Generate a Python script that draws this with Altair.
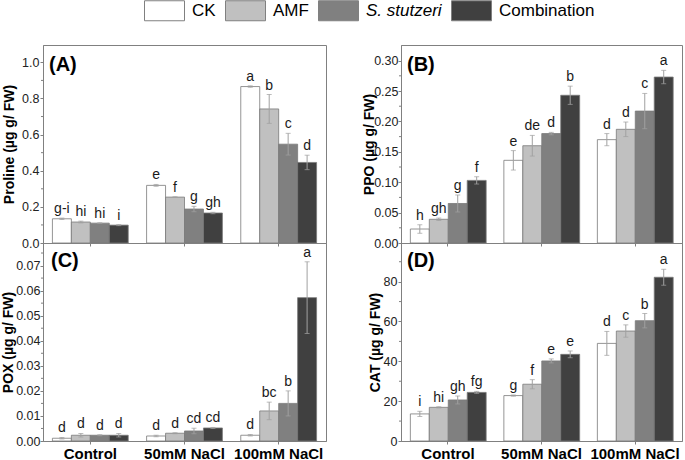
import altair as alt
import pandas as pd

groups = ["Control", "50mM NaCl", "100mM NaCl"]
treatments = ["CK", "AMF", "S. stutzeri", "Combination"]
fills = ["#ffffff", "#c0c0c0", "#808080", "#404040"]

proline_mean = [0.134, 0.116, 0.110, 0.099, 0.319, 0.254, 0.188, 0.166, 0.866, 0.742, 0.547, 0.446]
proline_err = [0.004, 0.005, 0.002, 0.003, 0.005, 0.002, 0.015, 0.004, 0.004, 0.080, 0.060, 0.040]
proline_letters = ["g-i", "hi", "hi", "i", "e", "f", "g", "gh", "a", "b", "c", "d"]

ppo_mean = [0.023, 0.039, 0.065, 0.103, 0.136, 0.160, 0.180, 0.243, 0.170, 0.187, 0.217, 0.273]
ppo_err = [0.007, 0.002, 0.014, 0.006, 0.016, 0.017, 0.002, 0.015, 0.010, 0.012, 0.029, 0.011]
ppo_letters = ["h", "gh", "g", "f", "e", "de", "d", "b", "d", "d", "c", "a"]

pox_mean = [0.0011, 0.0023, 0.0023, 0.0023, 0.0020, 0.0031, 0.0040, 0.0052, 0.0023, 0.0120, 0.0150, 0.0572]
pox_err = [0.0003, 0.0007, 0.0002, 0.0007, 0.0003, 0.0002, 0.0011, 0.0002, 0.0003, 0.0035, 0.0050, 0.0143]
pox_letters = ["d", "d", "d", "d", "d", "d", "cd", "cd", "d", "bc", "b", "a"]

cat_mean = [13.6, 16.9, 20.6, 24.4, 22.8, 28.5, 40.2, 43.5, 49.0, 55.2, 60.4, 82.2]
cat_err = [1.3, 0.3, 2.0, 0.5, 0.3, 2.3, 1.0, 1.7, 6.0, 3.1, 3.6, 4.0]
cat_letters = ["i", "hi", "gh", "fg", "g", "f", "e", "e", "d", "c", "b", "a"]

proline_ticks = [0.0, 0.2, 0.4, 0.6, 0.8, 1.0]
proline_minor = [0.1, 0.3, 0.5, 0.7, 0.9]
ppo_ticks = [0.0, 0.05, 0.10, 0.15, 0.20, 0.25, 0.30]
ppo_minor = [0.025, 0.075, 0.125, 0.175, 0.225, 0.275]
pox_ticks = [0.0, 0.01, 0.02, 0.03, 0.04, 0.05, 0.06, 0.07]
pox_minor = [0.005, 0.015, 0.025, 0.035, 0.045, 0.055, 0.065, 0.075]
cat_ticks = [0, 20, 40, 60, 80]
cat_minor = [10, 30, 50, 70, 90]

FONT = "Liberation Sans"
GRAY = "#808080"


def make_df(mean, err, letters):
    rows = []
    for i, g in enumerate(groups):
        for j, t in enumerate(treatments):
            k = i * 4 + j
            rows.append({"group": g, "treat": t, "mean": mean[k],
                         "lo": mean[k] - err[k], "hi": mean[k] + err[k],
                         "letter": letters[k]})
    return pd.DataFrame(rows)


legend = alt.Legend(
    title=None, orient="none", direction="horizontal",
    legendX=111, legendY=-45,
    symbolType="M-2,-1H2V1H-2Z", symbolSize=400,
    symbolStrokeColor=GRAY, symbolStrokeWidth=1, symbolOpacity=1,
    labelFontSize=17, labelFont=FONT, labelColor="#000000",
    labelOffset=17, columnPadding=7,
    labelFontStyle={"expr": "datum.label == 'S. stutzeri' ? 'italic' : 'normal'"},
)


def panel(mean, err, letters, title, ymax, ticks, minor, fmt, label, show_x,
          lab_x, lab_y, width, title_pad, label_pad):
    df = make_df(mean, err, letters)
    xenc = alt.X("group:N", sort=groups,
                 scale=alt.Scale(paddingInner=0.195, paddingOuter=0.1),
                 axis=alt.Axis(title=None, labels=show_x, labelAngle=0,
                               labelFontSize=15, labelFontWeight="bold",
                               labelColor="#000000", labelFont=FONT,
                               labelPadding=2, tickSize=3, tickColor=GRAY,
                               domainColor=GRAY))
    xoff = alt.XOffset("treat:N", sort=treatments,
                       scale=alt.Scale(paddingInner=0, paddingOuter=0))
    yscale = alt.Scale(domain=[0, ymax], nice=False, zero=True)
    yaxis = alt.Axis(title=title, values=ticks, format=fmt,
                     titleFontSize=14, titleFontWeight="bold", titleFont=FONT,
                     titleColor="#000000", titlePadding=title_pad,
                     labelFontSize=12.5, labelFont=FONT, labelColor="#222222",
                     labelPadding=label_pad, tickSize=3, tickColor=GRAY,
                     domainColor=GRAY)
    base = alt.Chart(df)
    bars = base.mark_bar(stroke="#7a7a7a", strokeWidth=0.8).encode(
        x=xenc, xOffset=xoff,
        y=alt.Y("mean:Q", scale=yscale, axis=yaxis),
        color=alt.Color("treat:N", sort=treatments,
                        scale=alt.Scale(domain=treatments, range=fills),
                        legend=legend),
    )
    rules = base.mark_rule(color="#a0a0a0", strokeWidth=1).encode(
        x=xenc, xOffset=xoff,
        y=alt.Y("lo:Q", scale=yscale, axis=yaxis), y2="hi:Q")
    caps_hi = base.mark_tick(color="#a0a0a0", thickness=1, size=5).encode(
        x=xenc, xOffset=xoff, y=alt.Y("hi:Q", scale=yscale, axis=yaxis))
    caps_lo = base.mark_tick(color="#a0a0a0", thickness=1, size=5).encode(
        x=xenc, xOffset=xoff, y=alt.Y("lo:Q", scale=yscale, axis=yaxis))
    texts = base.mark_text(fontSize=14, font=FONT, color="#1a1a1a",
                           baseline="bottom", dy=-2).encode(
        x=xenc, xOffset=xoff, y=alt.Y("hi:Q", scale=yscale, axis=yaxis),
        text="letter:N")
    mdf = pd.DataFrame({"v": minor})
    mticks = alt.Chart(mdf).mark_rule(color=GRAY, strokeWidth=1).encode(
        y=alt.Y("v:Q", scale=yscale, axis=yaxis),
        x=alt.value(0), x2=alt.value(-2))
    ldf = pd.DataFrame({"lab": [label]})
    ptxt = alt.Chart(ldf).mark_text(fontSize=20, fontWeight="bold", font=FONT,
                                    align="left", baseline="alphabetic",
                                    color="#000000").encode(
        text="lab:N", x=alt.value(lab_x), y=alt.value(lab_y))
    return alt.layer(bars, rules, caps_hi, caps_lo, texts, mticks, ptxt).properties(
        width=width, height=198)


pA = panel(proline_mean, proline_err, proline_letters, "Proline (µg g/ FW)",
           1.096, proline_ticks, proline_minor, ".1f", "(A)", False, 6, 26, 283, 5, 1)
pB = panel(ppo_mean, ppo_err, ppo_letters, "PPO (µg g/ FW)",
           0.3257, ppo_ticks, ppo_minor, ".2f", "(B)", False, 6, 26, 281, -3, 0)
pC = panel(pox_mean, pox_err, pox_letters, "POX (µg g/ FW)",
           0.079, pox_ticks, pox_minor, ".2f", "(C)", True, 8, 24, 283, 0, 0)
pD = panel(cat_mean, cat_err, cat_letters, "CAT (µg g/ FW)",
           99.4, cat_ticks, cat_minor, "d", "(D)", True, 6, 24, 281, 1, 1)

chart = alt.concat(pA, pB, pC, pD, columns=2, bounds="flush",
                   spacing={"row": 0, "column": 75}).properties(
    padding={"left": 1, "top": 0, "right": 2, "bottom": 0}
).configure_view(stroke=GRAY, strokeWidth=1).configure_axis(grid=False)

chart.save("out.html", embed_options={"renderer": "svg", "actions": False})
